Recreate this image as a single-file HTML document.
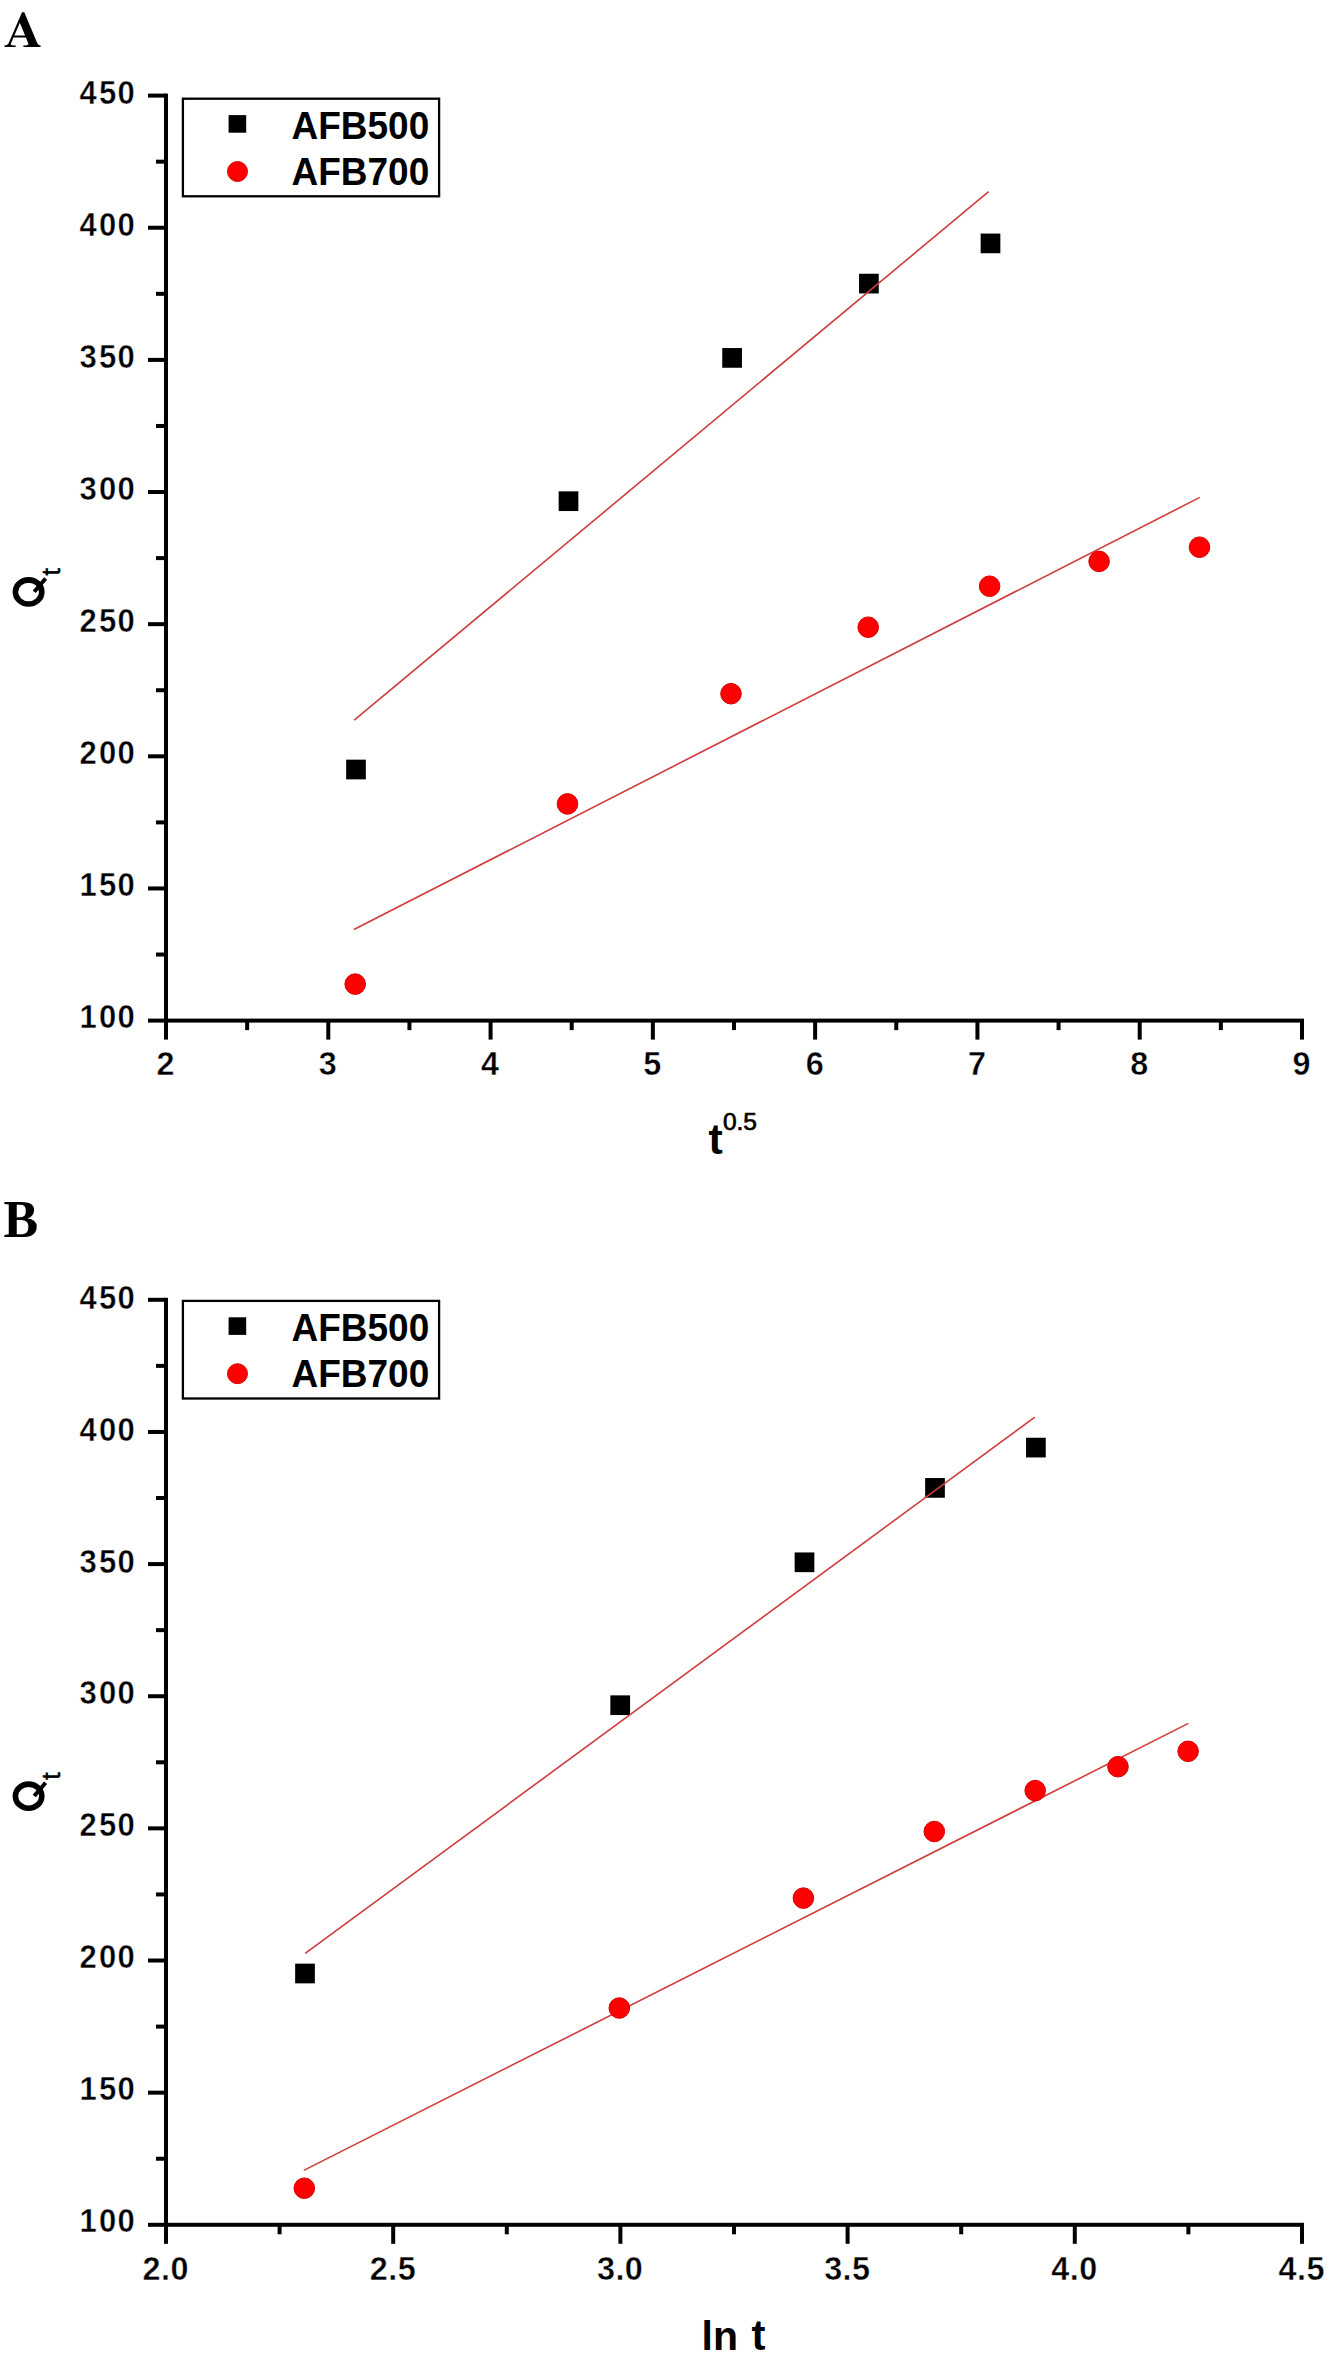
<!DOCTYPE html>
<html><head><meta charset="utf-8"><style>
html,body{margin:0;padding:0;background:#fff;}
body{width:1334px;height:2363px;overflow:hidden;}
svg{display:block;}
.tl{font-family:"Liberation Sans",sans-serif;font-weight:bold;font-size:33.4px;stroke:#fff;stroke-width:0.45px;}
.lg{font-family:"Liberation Sans",sans-serif;font-weight:bold;font-size:37px;}
.at{font-family:"Liberation Sans",sans-serif;font-weight:bold;font-size:41px;}
.sup{font-family:"Liberation Sans",sans-serif;font-weight:normal;font-size:24.5px;stroke:#000;stroke-width:0.7px;}
.sub{font-family:"Liberation Sans",sans-serif;font-weight:normal;font-size:26px;stroke:#000;stroke-width:0.7px;}
.pl{font-family:"Liberation Serif",serif;font-weight:bold;}
</style></head><body>
<svg width="1334" height="2363" viewBox="0 0 1334 2363">
<rect width="1334" height="2363" fill="#fff"/>
<path fill-rule="evenodd" d="M22 12.3 L24.3 12.3 L37.4 43.6 Q38.3 45.4 40.6 45.6 L40.6 46.9 L23.4 46.9 L23.4 45.6 Q27.6 45.5 28.5 44 L25.92 37.6 L13.49 37.6 L10.65 44.2 Q10.9 45.5 15.7 45.6 L15.7 46.9 L4.5 46.9 L4.5 45.6 Q7.3 45.4 8.5 43.6 Z M19.86 22.83 L14.4 35.5 L25.06 35.5 Z"/>
<rect x="164" y="93.6" width="4" height="929"/>
<rect x="164" y="1018.6" width="1140" height="4"/>
<rect x="148" y="93.6" width="18" height="4"/>
<text transform="translate(88.07,104.4) scale(0.93,1)" class="tl" text-anchor="middle">4</text><text transform="translate(107.54,104.4) scale(0.93,1)" class="tl" text-anchor="middle">5</text><text transform="translate(126.11,104.4) scale(0.93,1)" class="tl" text-anchor="middle">0</text>
<rect x="156" y="159.67" width="10" height="4"/>
<rect x="148" y="225.74" width="18" height="4"/>
<text transform="translate(88.07,236.36) scale(0.93,1)" class="tl" text-anchor="middle">4</text><text transform="translate(107.54,236.36) scale(0.93,1)" class="tl" text-anchor="middle">0</text><text transform="translate(126.11,236.36) scale(0.93,1)" class="tl" text-anchor="middle">0</text>
<rect x="156" y="291.81" width="10" height="4"/>
<rect x="148" y="357.89" width="18" height="4"/>
<text transform="translate(88.07,368.32) scale(0.93,1)" class="tl" text-anchor="middle">3</text><text transform="translate(107.54,368.32) scale(0.93,1)" class="tl" text-anchor="middle">5</text><text transform="translate(126.11,368.32) scale(0.93,1)" class="tl" text-anchor="middle">0</text>
<rect x="156" y="423.96" width="10" height="4"/>
<rect x="148" y="490.03" width="18" height="4"/>
<text transform="translate(88.07,500.28) scale(0.93,1)" class="tl" text-anchor="middle">3</text><text transform="translate(107.54,500.28) scale(0.93,1)" class="tl" text-anchor="middle">0</text><text transform="translate(126.11,500.28) scale(0.93,1)" class="tl" text-anchor="middle">0</text>
<rect x="156" y="556.1" width="10" height="4"/>
<rect x="148" y="622.17" width="18" height="4"/>
<text transform="translate(88.07,632.24) scale(0.93,1)" class="tl" text-anchor="middle">2</text><text transform="translate(107.54,632.24) scale(0.93,1)" class="tl" text-anchor="middle">5</text><text transform="translate(126.11,632.24) scale(0.93,1)" class="tl" text-anchor="middle">0</text>
<rect x="156" y="688.24" width="10" height="4"/>
<rect x="148" y="754.31" width="18" height="4"/>
<text transform="translate(88.07,764.2) scale(0.93,1)" class="tl" text-anchor="middle">2</text><text transform="translate(107.54,764.2) scale(0.93,1)" class="tl" text-anchor="middle">0</text><text transform="translate(126.11,764.2) scale(0.93,1)" class="tl" text-anchor="middle">0</text>
<rect x="156" y="820.39" width="10" height="4"/>
<rect x="148" y="886.46" width="18" height="4"/>
<text transform="translate(88.07,896.16) scale(0.93,1)" class="tl" text-anchor="middle">1</text><text transform="translate(107.54,896.16) scale(0.93,1)" class="tl" text-anchor="middle">5</text><text transform="translate(126.11,896.16) scale(0.93,1)" class="tl" text-anchor="middle">0</text>
<rect x="156" y="952.53" width="10" height="4"/>
<rect x="148" y="1018.6" width="18" height="4"/>
<text transform="translate(88.07,1028.12) scale(0.93,1)" class="tl" text-anchor="middle">1</text><text transform="translate(107.54,1028.12) scale(0.93,1)" class="tl" text-anchor="middle">0</text><text transform="translate(126.11,1028.12) scale(0.93,1)" class="tl" text-anchor="middle">0</text>
<rect x="164" y="1020.6" width="4" height="19"/>
<text transform="translate(165.5,1075.3) scale(0.97,1)" class="tl" text-anchor="middle">2</text>
<rect x="245.14" y="1020.6" width="4" height="9.5"/>
<rect x="326.29" y="1020.6" width="4" height="19"/>
<text transform="translate(327.79,1075.3) scale(0.97,1)" class="tl" text-anchor="middle">3</text>
<rect x="407.43" y="1020.6" width="4" height="9.5"/>
<rect x="488.57" y="1020.6" width="4" height="19"/>
<text transform="translate(490.07,1075.3) scale(0.97,1)" class="tl" text-anchor="middle">4</text>
<rect x="569.71" y="1020.6" width="4" height="9.5"/>
<rect x="650.86" y="1020.6" width="4" height="19"/>
<text transform="translate(652.36,1075.3) scale(0.97,1)" class="tl" text-anchor="middle">5</text>
<rect x="732" y="1020.6" width="4" height="9.5"/>
<rect x="813.14" y="1020.6" width="4" height="19"/>
<text transform="translate(814.64,1075.3) scale(0.97,1)" class="tl" text-anchor="middle">6</text>
<rect x="894.29" y="1020.6" width="4" height="9.5"/>
<rect x="975.43" y="1020.6" width="4" height="19"/>
<text transform="translate(976.93,1075.3) scale(0.97,1)" class="tl" text-anchor="middle">7</text>
<rect x="1056.57" y="1020.6" width="4" height="9.5"/>
<rect x="1137.71" y="1020.6" width="4" height="19"/>
<text transform="translate(1139.21,1075.3) scale(0.97,1)" class="tl" text-anchor="middle">8</text>
<rect x="1218.86" y="1020.6" width="4" height="9.5"/>
<rect x="1300" y="1020.6" width="4" height="19"/>
<text transform="translate(1301.5,1075.3) scale(0.97,1)" class="tl" text-anchor="middle">9</text>
<rect x="182.9" y="98.7" width="256.2" height="97.6" fill="none" stroke="#000" stroke-width="2.3"/>
<rect x="228.6" y="115.1" width="17.6" height="17.6"/>
<circle cx="237.5" cy="171.5" r="10" fill="#ff0000" stroke="#d80000" stroke-width="1"/>
<text transform="translate(291.5,138.5) scale(1,1.03)" class="lg">AFB500</text>
<text transform="translate(291.5,185) scale(1,1.03)" class="lg">AFB700</text>
<rect x="346.15" y="759.65" width="19.7" height="19.7"/>
<rect x="558.65" y="491.35" width="19.7" height="19.7"/>
<rect x="722.25" y="348.05" width="19.7" height="19.7"/>
<rect x="859.05" y="273.75" width="19.7" height="19.7"/>
<rect x="980.65" y="233.55" width="19.7" height="19.7"/>
<line x1="354.2" y1="720.2" x2="988.6" y2="191.6" stroke="#d03c3c" stroke-width="1.6"/>
<line x1="353.9" y1="929.5" x2="1199.8" y2="497.4" stroke="#d03c3c" stroke-width="1.6"/>
<circle cx="355.2" cy="984.1" r="10.3" fill="#ff0000" stroke="#d80000" stroke-width="1"/>
<circle cx="567.5" cy="803.9" r="10.3" fill="#ff0000" stroke="#d80000" stroke-width="1"/>
<circle cx="731" cy="693.7" r="10.3" fill="#ff0000" stroke="#d80000" stroke-width="1"/>
<circle cx="868.2" cy="627.2" r="10.3" fill="#ff0000" stroke="#d80000" stroke-width="1"/>
<circle cx="989.6" cy="586.2" r="10.3" fill="#ff0000" stroke="#d80000" stroke-width="1"/>
<circle cx="1099.1" cy="561.4" r="10.3" fill="#ff0000" stroke="#d80000" stroke-width="1"/>
<circle cx="1199.5" cy="547.2" r="10.3" fill="#ff0000" stroke="#d80000" stroke-width="1"/>
<text x="3.6" y="1236.8" class="pl" font-size="52">B</text>
<rect x="164" y="1297.8" width="4" height="929"/>
<rect x="164" y="2222.8" width="1140" height="4"/>
<rect x="148" y="1297.8" width="18" height="4"/>
<text transform="translate(88.07,1308.6) scale(0.93,1)" class="tl" text-anchor="middle">4</text><text transform="translate(107.54,1308.6) scale(0.93,1)" class="tl" text-anchor="middle">5</text><text transform="translate(126.11,1308.6) scale(0.93,1)" class="tl" text-anchor="middle">0</text>
<rect x="156" y="1363.87" width="10" height="4"/>
<rect x="148" y="1429.94" width="18" height="4"/>
<text transform="translate(88.07,1440.56) scale(0.93,1)" class="tl" text-anchor="middle">4</text><text transform="translate(107.54,1440.56) scale(0.93,1)" class="tl" text-anchor="middle">0</text><text transform="translate(126.11,1440.56) scale(0.93,1)" class="tl" text-anchor="middle">0</text>
<rect x="156" y="1496.01" width="10" height="4"/>
<rect x="148" y="1562.09" width="18" height="4"/>
<text transform="translate(88.07,1572.52) scale(0.93,1)" class="tl" text-anchor="middle">3</text><text transform="translate(107.54,1572.52) scale(0.93,1)" class="tl" text-anchor="middle">5</text><text transform="translate(126.11,1572.52) scale(0.93,1)" class="tl" text-anchor="middle">0</text>
<rect x="156" y="1628.16" width="10" height="4"/>
<rect x="148" y="1694.23" width="18" height="4"/>
<text transform="translate(88.07,1704.48) scale(0.93,1)" class="tl" text-anchor="middle">3</text><text transform="translate(107.54,1704.48) scale(0.93,1)" class="tl" text-anchor="middle">0</text><text transform="translate(126.11,1704.48) scale(0.93,1)" class="tl" text-anchor="middle">0</text>
<rect x="156" y="1760.3" width="10" height="4"/>
<rect x="148" y="1826.37" width="18" height="4"/>
<text transform="translate(88.07,1836.44) scale(0.93,1)" class="tl" text-anchor="middle">2</text><text transform="translate(107.54,1836.44) scale(0.93,1)" class="tl" text-anchor="middle">5</text><text transform="translate(126.11,1836.44) scale(0.93,1)" class="tl" text-anchor="middle">0</text>
<rect x="156" y="1892.44" width="10" height="4"/>
<rect x="148" y="1958.51" width="18" height="4"/>
<text transform="translate(88.07,1968.4) scale(0.93,1)" class="tl" text-anchor="middle">2</text><text transform="translate(107.54,1968.4) scale(0.93,1)" class="tl" text-anchor="middle">0</text><text transform="translate(126.11,1968.4) scale(0.93,1)" class="tl" text-anchor="middle">0</text>
<rect x="156" y="2024.59" width="10" height="4"/>
<rect x="148" y="2090.66" width="18" height="4"/>
<text transform="translate(88.07,2100.36) scale(0.93,1)" class="tl" text-anchor="middle">1</text><text transform="translate(107.54,2100.36) scale(0.93,1)" class="tl" text-anchor="middle">5</text><text transform="translate(126.11,2100.36) scale(0.93,1)" class="tl" text-anchor="middle">0</text>
<rect x="156" y="2156.73" width="10" height="4"/>
<rect x="148" y="2222.8" width="18" height="4"/>
<text transform="translate(88.07,2232.32) scale(0.93,1)" class="tl" text-anchor="middle">1</text><text transform="translate(107.54,2232.32) scale(0.93,1)" class="tl" text-anchor="middle">0</text><text transform="translate(126.11,2232.32) scale(0.93,1)" class="tl" text-anchor="middle">0</text>
<rect x="164" y="2224.8" width="4" height="19"/>
<text transform="translate(151.57,2279.5) scale(0.97,1)" class="tl" text-anchor="middle">2</text><text transform="translate(165.5,2279.5) scale(0.97,1)" class="tl" text-anchor="middle">.</text><text transform="translate(179.43,2279.5) scale(0.97,1)" class="tl" text-anchor="middle">0</text>
<rect x="277.6" y="2224.8" width="4" height="9.5"/>
<rect x="391.2" y="2224.8" width="4" height="19"/>
<text transform="translate(378.77,2279.5) scale(0.97,1)" class="tl" text-anchor="middle">2</text><text transform="translate(392.7,2279.5) scale(0.97,1)" class="tl" text-anchor="middle">.</text><text transform="translate(406.63,2279.5) scale(0.97,1)" class="tl" text-anchor="middle">5</text>
<rect x="504.8" y="2224.8" width="4" height="9.5"/>
<rect x="618.4" y="2224.8" width="4" height="19"/>
<text transform="translate(605.97,2279.5) scale(0.97,1)" class="tl" text-anchor="middle">3</text><text transform="translate(619.9,2279.5) scale(0.97,1)" class="tl" text-anchor="middle">.</text><text transform="translate(633.83,2279.5) scale(0.97,1)" class="tl" text-anchor="middle">0</text>
<rect x="732" y="2224.8" width="4" height="9.5"/>
<rect x="845.6" y="2224.8" width="4" height="19"/>
<text transform="translate(833.17,2279.5) scale(0.97,1)" class="tl" text-anchor="middle">3</text><text transform="translate(847.1,2279.5) scale(0.97,1)" class="tl" text-anchor="middle">.</text><text transform="translate(861.03,2279.5) scale(0.97,1)" class="tl" text-anchor="middle">5</text>
<rect x="959.2" y="2224.8" width="4" height="9.5"/>
<rect x="1072.8" y="2224.8" width="4" height="19"/>
<text transform="translate(1060.37,2279.5) scale(0.97,1)" class="tl" text-anchor="middle">4</text><text transform="translate(1074.3,2279.5) scale(0.97,1)" class="tl" text-anchor="middle">.</text><text transform="translate(1088.23,2279.5) scale(0.97,1)" class="tl" text-anchor="middle">0</text>
<rect x="1186.4" y="2224.8" width="4" height="9.5"/>
<rect x="1300" y="2224.8" width="4" height="19"/>
<text transform="translate(1287.57,2279.5) scale(0.97,1)" class="tl" text-anchor="middle">4</text><text transform="translate(1301.5,2279.5) scale(0.97,1)" class="tl" text-anchor="middle">.</text><text transform="translate(1315.43,2279.5) scale(0.97,1)" class="tl" text-anchor="middle">5</text>
<rect x="182.9" y="1300.9" width="256.2" height="97.6" fill="none" stroke="#000" stroke-width="2.3"/>
<rect x="228.6" y="1317.3" width="17.6" height="17.6"/>
<circle cx="237.5" cy="1373.7" r="10" fill="#ff0000" stroke="#d80000" stroke-width="1"/>
<text transform="translate(291.5,1340.7) scale(1,1.03)" class="lg">AFB500</text>
<text transform="translate(291.5,1387.2) scale(1,1.03)" class="lg">AFB700</text>
<rect x="295.15" y="1963.65" width="19.7" height="19.7"/>
<rect x="610.35" y="1695.35" width="19.7" height="19.7"/>
<rect x="794.65" y="1552.45" width="19.7" height="19.7"/>
<rect x="925.15" y="1478.05" width="19.7" height="19.7"/>
<rect x="1026.05" y="1437.75" width="19.7" height="19.7"/>
<line x1="305.2" y1="1953.4" x2="1034.8" y2="1417.2" stroke="#d03c3c" stroke-width="1.6"/>
<line x1="303.8" y1="2170.4" x2="1188.4" y2="1723.4" stroke="#d03c3c" stroke-width="1.6"/>
<circle cx="304.3" cy="2188.2" r="10.3" fill="#ff0000" stroke="#d80000" stroke-width="1"/>
<circle cx="619.3" cy="2008" r="10.3" fill="#ff0000" stroke="#d80000" stroke-width="1"/>
<circle cx="803.4" cy="1898.1" r="10.3" fill="#ff0000" stroke="#d80000" stroke-width="1"/>
<circle cx="934.3" cy="1831.5" r="10.3" fill="#ff0000" stroke="#d80000" stroke-width="1"/>
<circle cx="1035.2" cy="1790.6" r="10.3" fill="#ff0000" stroke="#d80000" stroke-width="1"/>
<circle cx="1118" cy="1766.7" r="10.3" fill="#ff0000" stroke="#d80000" stroke-width="1"/>
<circle cx="1188.1" cy="1751.3" r="10.3" fill="#ff0000" stroke="#d80000" stroke-width="1"/>
<text x="708.6" y="1153.9" class="at" style="font-size:42.8px">t</text>
<text x="722.9" y="1130.1" class="sup">0.5</text>
<text x="701.6" y="2350" class="at">ln</text>
<text x="751.4" y="2350" class="at" style="font-size:42px">t</text>
<ellipse cx="28.6" cy="591.95" rx="13.2" ry="12.05" fill="none" stroke="#000" stroke-width="5.6"/>
<line x1="34.2" y1="591.75" x2="45.6" y2="578.55" stroke="#000" stroke-width="4"/>
<g transform="translate(44.2,608.5) rotate(-90)"><text x="33" y="16" class="sub">t</text></g>
<ellipse cx="28.6" cy="1796.15" rx="13.2" ry="12.05" fill="none" stroke="#000" stroke-width="5.6"/>
<line x1="34.2" y1="1795.95" x2="45.6" y2="1782.75" stroke="#000" stroke-width="4"/>
<g transform="translate(44.2,1812.7) rotate(-90)"><text x="33" y="16" class="sub">t</text></g>
</svg>
</body></html>
